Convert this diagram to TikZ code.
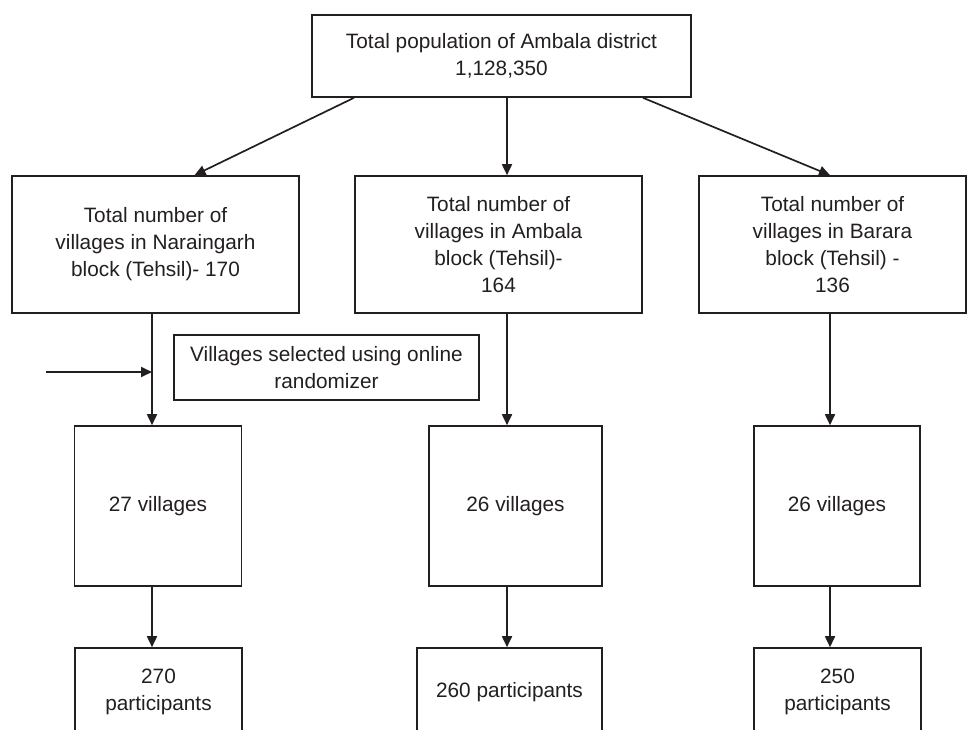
\documentclass[tikz,border=0pt]{standalone}
\usepackage{fontspec}
\setmainfont{Liberation Sans}
\usetikzlibrary{arrows.meta}
\definecolor{ink}{HTML}{231F20}
\begin{document}
\begin{tikzpicture}[x=1pt,y=-1pt,
  box/.style={draw=ink,line width=1.6pt,align=center,inner sep=0pt,text=ink,
    font=\fontsize{20.8}{27}\selectfont},
  arr/.style={draw=ink,line width=1.7pt,-{Triangle[length=11pt,width=10pt]}}]
\clip (0,0) rectangle (968,729);
\fill[white] (0,0) rectangle (968,729);
% columns
\coordinate (col1) at (152,0);
\coordinate (col2) at (507,0);
\coordinate (col3) at (830,0);
% boxes
\node[box,minimum width=379,minimum height=82] (top) at (501.5,56)
  {Total population of Ambala district\\1,128,350};
\node[box,minimum width=287,minimum height=137] (b1) at (155.5,244.5)
  {Total number of\\villages in Naraingarh\\block (Tehsil)- 170};
\node[box,minimum width=287,minimum height=137] (b2) at (498.5,244.5)
  {Total number of\\villages in Ambala\\block (Tehsil)-\\164};
\node[box,minimum width=267,minimum height=137] (b3) at (832.5,244.5)
  {Total number of\\villages in Barara\\block (Tehsil) -\\136};
\node[box,minimum width=305,minimum height=65] (rand) at (326.5,367.5)
  {Villages selected using online\\randomizer};
\node[box,minimum width=167,minimum height=160] (v1) at (158,506) {27 villages};
\node[box,minimum width=173,minimum height=160] (v2) at (515.5,506) {26 villages};
\node[box,minimum width=166,minimum height=160] (v3) at (837,506) {26 villages};
\node[box,minimum width=167,minimum height=88] (p1) at (158.5,692) {270\\participants};
\node[box,minimum width=185,minimum height=88] (p2) at (509.5,692) {260 participants};
\node[box,minimum width=167,minimum height=88] (p3) at (837.5,692) {250\\participants};
% connectors from top
\draw[arr] ([xshift=-147.5]top.south) -- ([xshift=39]b1.north);
\draw[arr] (top.south -| col2) -- (b2.north -| col2);
\draw[arr] ([xshift=141.5]top.south) -- ([xshift=-2.5]b3.north);
% verticals
\draw[arr] (b1.south -| col1) -- (v1.north -| col1);
\draw[arr] (b2.south -| col2) -- (v2.north -| col2);
\draw[arr] (b3.south -| col3) -- (v3.north -| col3);
\draw[arr] (v1.south -| col1) -- (p1.north -| col1);
\draw[arr] (v2.south -| col2) -- (p2.north -| col2);
\draw[arr] (v3.south -| col3) -- (p3.north -| col3);
% randomizer input arrow
\coordinate (rin) at (46,372);
\draw[arr] (rin) -- (rin -| col1);
\end{tikzpicture}
\end{document}
